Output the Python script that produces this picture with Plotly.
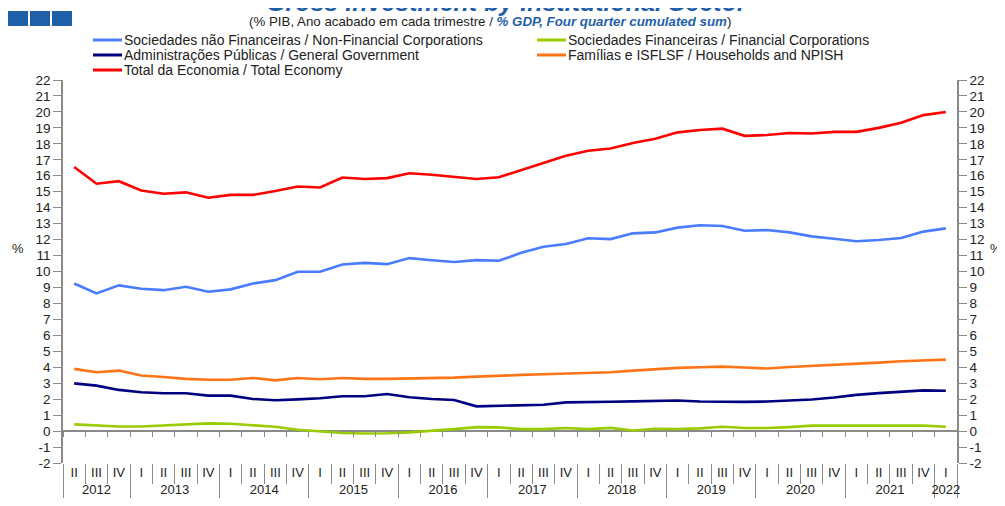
import plotly.graph_objects as go

# ---- data ----
ZW = "\u200b"  # keeps 2012's partial-year quarters distinct so every year orders I..IV
years = ["2012"] * 3 + [str(y) for y in range(2013, 2022) for _ in range(4)] + ["2022"]
quarters = ["II" + ZW, "III" + ZW, "IV" + ZW] + ["I", "II", "III", "IV"] * 9 + ["I"]

nfc = [9.25, 8.63, 9.13, 8.92, 8.83, 9.04, 8.73, 8.88, 9.25, 9.46, 9.98, 9.98,
       10.44, 10.54, 10.46, 10.84, 10.71, 10.60, 10.71, 10.67, 11.17, 11.55, 11.72, 12.08,
       12.03, 12.39, 12.45, 12.75, 12.90, 12.85, 12.55, 12.60, 12.45, 12.20, 12.05, 11.90,
       11.97, 12.10, 12.50, 12.70]
fc = [0.42, 0.34, 0.29, 0.29, 0.34, 0.40, 0.48, 0.46, 0.38, 0.27, 0.08, -0.04,
      -0.12, -0.15, -0.14, -0.08, 0.00, 0.12, 0.25, 0.23, 0.12, 0.12, 0.19, 0.12,
      0.20, 0.04, 0.15, 0.13, 0.17, 0.27, 0.19, 0.19, 0.25, 0.34, 0.34, 0.34,
      0.34, 0.34, 0.34, 0.27]
gg = [2.99, 2.85, 2.58, 2.43, 2.37, 2.37, 2.22, 2.22, 2.01, 1.93, 1.99, 2.06,
      2.18, 2.18, 2.32, 2.12, 2.01, 1.95, 1.55, 1.59, 1.59, 1.65, 1.80, 1.80,
      1.84, 1.86, 1.88, 1.92, 1.85, 1.83, 1.83, 1.85, 1.92, 1.98, 2.10, 2.27,
      2.38, 2.48, 2.55, 2.53]
hh = [3.90, 3.69, 3.79, 3.48, 3.39, 3.27, 3.22, 3.22, 3.33, 3.18, 3.33, 3.25,
      3.33, 3.27, 3.27, 3.29, 3.33, 3.35, 3.41, 3.48, 3.52, 3.56, 3.60, 3.64,
      3.69, 3.79, 3.88, 3.96, 4.00, 4.04, 3.98, 3.92, 4.02, 4.08, 4.13, 4.23,
      4.29, 4.38, 4.44, 4.48]
total = [16.55, 15.50, 15.66, 15.08, 14.87, 14.96, 14.62, 14.80, 14.80, 15.04, 15.33, 15.26,
         15.89, 15.80, 15.85, 16.16, 16.06, 15.95, 15.80, 15.91, 16.37, 16.83, 17.25, 17.57,
         17.71, 18.05, 18.32, 18.72, 18.87, 18.95, 18.50, 18.55, 18.68, 18.65, 18.75, 18.75,
         19.00, 19.32, 19.80, 20.00]

names = [
    "Sociedades não Financeiras / Non-Financial Corporations",
    "Sociedades Financeiras / Financial Corporations",
    "Administrações Públicas / General Government",
    "Famílias e ISFLSF / Households and NPISH",
    "Total da Economia / Total Economy",
]
colors = ["#4a7cff", "#99cc00", "#000080", "#ff7417", "#ff0000"]
series = [nfc, fc, gg, hh, total]

FONT = "Liberation Sans, Arial, sans-serif"
AX = "#8a8a8a"
OFF = 8                      # page body margin offset
W, H = 1005 - OFF, 506 - OFF
PL, PR, PT, PB = 63, 957, 80, 463   # plot area in screen pixels
L, T = PL - OFF, PT - OFF
R, B = W - (PR - OFF), H - (PB - OFF)
PW, PH = PR - PL, PB - PT
N = len(years)


def px_x(p):
    return (p - PL) / PW


def px_y(p):
    return 1 + (PT - p) / PH


fig = go.Figure()
# helper (invisible) trace so the zero-line tick axis is drawn
fig.add_trace(go.Scatter(x=[0], y=[None], xaxis="x2", yaxis="y", mode="lines",
                         showlegend=False, hoverinfo="skip"))
x = [years, quarters]
for i, (nm, col, vals) in enumerate(zip(names, colors, series)):
    fig.add_trace(go.Scatter(
        x=x, y=vals, name=nm, mode="lines",
        line=dict(color=col, width=2.6),
        yaxis="y2" if i == 4 else "y", showlegend=False,
    ))

ytick = list(range(-2, 23))
fig.update_layout(
    width=W, height=H,
    margin=dict(l=L, r=R, t=T, b=B, autoexpand=False),
    paper_bgcolor="white", plot_bgcolor="white",
    font=dict(family=FONT, size=13, color="#222"),
    showlegend=False,
    xaxis=dict(
        type="multicategory", range=[-0.5, N - 0.5],
        showline=False, showgrid=False, zeroline=False,
        ticks="outside", tickson="boundaries", ticklen=20, tickcolor=AX, tickwidth=1,
        showdividers=True, dividercolor=AX, dividerwidth=1,
        tickfont=dict(size=13, color="#222"),
    ),
    xaxis2=dict(
        type="linear", overlaying="x", anchor="free", position=2 / 24, range=[-0.5, N - 0.5],
        showline=False, showgrid=False, zeroline=False, showticklabels=False,
        tickmode="array", tickvals=[k + 0.5 for k in range(-1, N)],
        ticks="outside", ticklen=5, tickcolor=AX,
    ),
    yaxis=dict(
        range=[-2, 22], tickmode="array", tickvals=ytick, ticktext=[str(v) for v in ytick],
        showgrid=False, showline=True, linecolor=AX, linewidth=1.5,
        ticks="outside", ticklen=8, tickcolor=AX,
        zeroline=True, zerolinecolor=AX, zerolinewidth=1.5,
        tickfont=dict(size=13.5, color="#222"),
    ),
    yaxis2=dict(
        overlaying="y", side="right", matches="y", range=[-2, 22],
        tickmode="array", tickvals=ytick, ticktext=[str(v) for v in ytick],
        showgrid=False, showline=True, linecolor=AX, linewidth=1.5,
        ticks="outside", ticklen=8, tickcolor=AX, zeroline=False,
        tickfont=dict(size=13.5, color="#222"),
    ),
)

# manual legend (two columns, compact rows as in the reference)
leg_pos = [(93, 40), (537, 40), (93, 55), (537, 55), (93, 70)]
for (lx, ly), nm, col in zip(leg_pos, names, colors):
    fig.add_shape(type="line", xref="paper", yref="paper",
                  x0=px_x(lx), x1=px_x(lx + 29), y0=px_y(ly), y1=px_y(ly),
                  line=dict(color=col, width=3))
    fig.add_annotation(text=nm, xref="paper", yref="paper", x=px_x(lx + 29), y=px_y(ly),
                       xanchor="left", yanchor="middle", showarrow=False,
                       font=dict(size=14, color="#222"))

# title (partially cut at top as in the reference)
fig.add_annotation(
    text="<b><i>Gross Investment by Institutional Sector</i></b>",
    xref="paper", yref="paper", x=px_x(507), y=px_y(2), xanchor="center", yanchor="middle",
    showarrow=False, font=dict(size=25, color="#1f5fa8", family=FONT),
)
fig.add_annotation(
    text="(% PIB, Ano acabado em cada trimestre / "
         "<b><i><span style='color:#1f5fa8'>% GDP, Four quarter cumulated sum</span></i></b>)",
    xref="paper", yref="paper", x=px_x(490), y=px_y(21), xanchor="center", yanchor="middle",
    showarrow=False, font=dict(size=13.3, color="#222", family=FONT),
)
fig.add_annotation(text="%", xref="paper", yref="paper", x=px_x(18), y=px_y(248),
                   xanchor="center", yanchor="middle",
                   showarrow=False, font=dict(size=13, color="#222"))
fig.add_annotation(text="%", xref="paper", yref="paper", x=px_x(996), y=px_y(248),
                   xanchor="center", yanchor="middle",
                   showarrow=False, font=dict(size=13, color="#222"))

# logo blocks top-left
for k in range(3):
    x0 = 8 + k * 22
    fig.add_shape(type="rect", xref="paper", yref="paper",
                  x0=px_x(x0), x1=px_x(x0 + 20), y0=px_y(26), y1=px_y(11),
                  fillcolor="#1f5fa8", line=dict(width=0))

fig.write_html("out.html")
